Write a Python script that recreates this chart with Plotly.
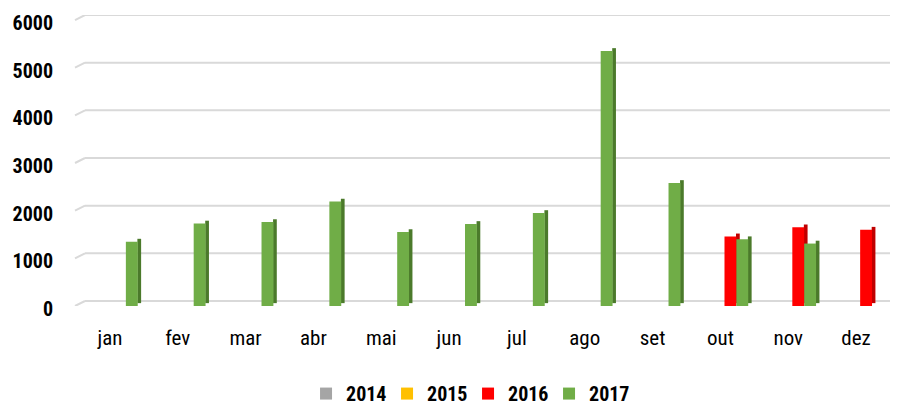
import plotly.graph_objects as go

months = ["jan", "fev", "mar", "abr", "mai", "jun", "jul", "ago", "set", "out", "nov", "dez"]
series_names = ["2014", "2015", "2016", "2017"]
v2014 = [None] * 12
v2015 = [None] * 12
v2016 = [None, None, None, None, None, None, None, None, None, 1460, 1650, 1600]
v2017 = [1350, 1730, 1760, 2190, 1550, 1720, 1950, 5350, 2580, 1400, 1310, None]
y_ticks = [0, 1000, 2000, 3000, 4000, 5000, 6000]

front_colors = ["#a5a5a5", "#ffc000", "#ff0000", "#70ad47"]
side_colors = ["#7c7c7c", "#bf9000", "#c00000", "#4b7a2b"]
values = [v2014, v2015, v2016, v2017]

FONT = "Roboto Condensed"
W_FRONT = 0.175
W_SIDE = 0.055
first_offset = -0.29
DEPTH = 105  # 3D depth drop of the bars below the back wall, in axis units

fig = go.Figure()
for i, (name, vals) in enumerate(zip(series_names, values)):
    off = first_offset + i * W_FRONT
    # side face (3D depth)
    fig.add_trace(go.Bar(
        x=months, y=vals, base=-DEPTH + 60, offset=off + W_FRONT - 0.005, width=W_SIDE,
        marker=dict(color=side_colors[i], line=dict(width=0)),
        showlegend=False, hoverinfo="skip",
    ))
    # front face
    fig.add_trace(go.Bar(
        x=months, y=vals, base=-DEPTH, name=name, offset=off, width=W_FRONT,
        marker=dict(color=front_colors[i], line=dict(width=0)),
    ))

# 3D-style gridlines: short slanted segment at left then horizontal line
shapes = []
for v in y_ticks:
    shapes.append(dict(type="line", xref="paper", yref="y", xsizemode="pixel", ysizemode="pixel",
                       xanchor=0, yanchor=v, x0=-1, x1=9, y0=-5, y1=0,
                       line=dict(color="#d9d9d9", width=2), layer="below"))
    shapes.append(dict(type="line", xref="paper", yref="y", x0=9 / 814, x1=1, y0=v, y1=v,
                       line=dict(color="#d9d9d9", width=2), layer="below"))

fig.update_layout(
    width=897, height=407,
    margin=dict(l=76, r=7, t=15, b=101, autoexpand=False),
    paper_bgcolor="white", plot_bgcolor="white",
    barmode="overlay",
    shapes=shapes,
    font=dict(family=FONT, color="#000000"),
    xaxis=dict(
        range=[-0.5, 11.5], showgrid=False, zeroline=False, showline=False, ticks="",
        tickfont=dict(size=21, family=FONT), automargin=False,
        ticklabelstandoff=17,
    ),
    yaxis=dict(
        range=[-DEPTH, 6000.5], tickvals=y_ticks, showgrid=False, zeroline=False, showline=False,
        ticks="", tickfont=dict(size=20, family=FONT, weight="bold"), automargin=False,
        ticklabelstandoff=22, ticklabelshift=8, ticklabeloverflow="allow",
    ),
    legend=dict(
        orientation="h", x=0.2826, xanchor="left", yref="container", y=0.033, yanchor="middle",
        font=dict(size=20, family=FONT, weight="bold"),
        itemwidth=30, traceorder="normal", entrywidth=36, entrywidthmode="pixels",
    ),
)

fig.write_html("out.html", config={"displayModeBar": False},
               post_script="document.body.style.margin='0';document.body.style.overflow='hidden';")
